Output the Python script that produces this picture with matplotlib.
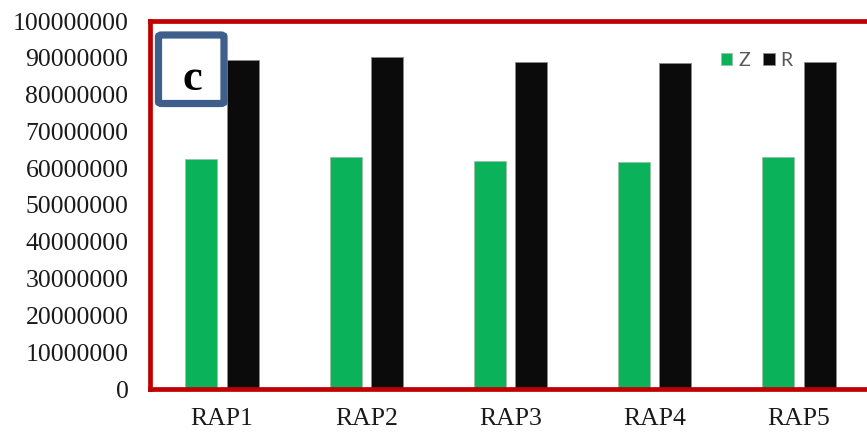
import matplotlib.pyplot as plt
from matplotlib.patches import FancyBboxPatch
from matplotlib.ticker import FuncFormatter

categories = ['RAP1', 'RAP2', 'RAP3', 'RAP4', 'RAP5']
z_vals = [62.6e6, 63.0e6, 62.0e6, 61.8e6, 63.0e6]
r_vals = [89.5e6, 90.1e6, 88.9e6, 88.6e6, 88.9e6]
y_ticks = [0, 10e6, 20e6, 30e6, 40e6, 50e6, 60e6, 70e6, 80e6, 90e6, 100e6]

W, H = 867, 432
fig = plt.figure(figsize=(W / 100, H / 100), dpi=100)
# plot area runs a little past the right edge, like the original figure crop
ax = fig.add_axes([150 / W, 1 - 389 / H, 721 / W, 368 / H])

x = list(range(len(categories)))
bw = 0.222
off = 0.143
ax.bar([i - off for i in x], z_vals, width=bw, color='#0AB25A',
       edgecolor='#9bbfa8', linewidth=0.6, label='Z', zorder=2)
ax.bar([i + off for i in x], r_vals, width=bw, color='#0B0B0C',
       edgecolor='#8a8a8a', linewidth=0.6, label='R', zorder=2)

ax.set_xlim(-0.5, 4.5)
ax.set_ylim(0, 100e6)
ax.set_yticks(y_ticks)
ax.yaxis.set_major_formatter(FuncFormatter(lambda v, p: f'{v:.0f}'))
ax.set_xticks(x)
ax.set_xticklabels(categories)

serif = ['Liberation Serif', 'DejaVu Serif']
for lab in ax.get_yticklabels() + ax.get_xticklabels():
    lab.set_family(serif)
    lab.set_fontsize(18.5)
    lab.set_color('#1a1a1a')
ax.tick_params(axis='y', length=0, pad=15.5)
ax.tick_params(axis='x', length=0, pad=13.5)

for s in ax.spines.values():
    s.set_color('#C00000')
    s.set_linewidth(3.4)
    s.set_zorder(3)

leg = fig.legend(loc='upper left', bbox_to_anchor=(721 / W, 1 - 52 / H),
                 ncol=2, frameon=False, borderpad=0, borderaxespad=0,
                 handlelength=0.58, handleheight=0.58, handletextpad=0.3,
                 columnspacing=0.7, prop={'family': 'Lato', 'size': 14})
for t in leg.get_texts():
    t.set_color('#595959')

# panel label box
box = FancyBboxPatch((158.5 / W, 1 - 103.5 / H), 65.5 / W, 68.5 / H,
                     boxstyle='round,pad=0,rounding_size=0.004',
                     transform=fig.transFigure, facecolor='white',
                     edgecolor='#3E5F8C', linewidth=5.2, zorder=5)
fig.add_artist(box)
fig.text(192 / W, 1 - 90 / H, 'c', family=serif, fontweight='bold',
         fontsize=32, ha='center', va='baseline', color='black', zorder=6)

fig.savefig('out.png', dpi=100)
